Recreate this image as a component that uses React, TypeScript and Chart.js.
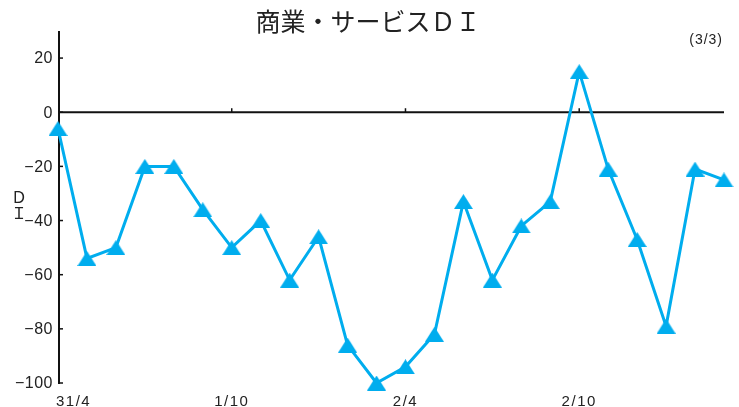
import React, { useEffect, useRef } from 'react';
import { Chart, registerables } from 'chart.js';

Chart.register(...registerables);

// Months: 平成31年4月 … 令和3年3月
const categories = [
  '31/4', '1/5', '1/6', '1/7', '1/8', '1/9', '1/10', '1/11', '1/12',
  '2/1', '2/2', '2/3', '2/4', '2/5', '2/6', '2/7', '2/8', '2/9', '2/10', '2/11', '2/12',
  '3/1', '3/2', '3/3',
];
const diValues = [
  -6, -54, -50, -20, -20, -36, -50, -40, -62, -46, -86, -100,
  -94, -82, -33, -62, -42, -33, 15, -21, -47, -79, -21, -25,
];
const xTickLabels = ['31/4', '1/10', '2/4', '2/10'];
const yTicks = [20, 0, -20, -40, -60, -80, -100];
const titleText = '商業・サービスＤＩ';
const cornerText = '(3/3)';
const yTitle = ['Ｄ', 'Ｉ'];

const LINE = '#00ADEE';
const JP = '"Noto Sans CJK JP", "Noto Sans", sans-serif';
const NUM = '"Liberation Sans", Arial, sans-serif';

const decor = {
  id: 'decor',
  beforeDatasetsDraw(chart: any) {
    const { ctx, chartArea: a, scales } = chart;
    const x = scales.x;
    const y = scales.y;
    ctx.save();
    ctx.strokeStyle = '#111';
    ctx.lineWidth = 2;
    ctx.beginPath();
    ctx.moveTo(a.left + 1, a.top);
    ctx.lineTo(a.left + 1, a.bottom + 1);
    ctx.stroke();
    ctx.lineWidth = 1.5;
    yTicks.forEach((v) => {
      const py = y.getPixelForValue(v);
      ctx.beginPath();
      ctx.moveTo(a.left, py);
      ctx.lineTo(a.left + 5, py);
      ctx.stroke();
    });
    const zy = y.getPixelForValue(0);
    ctx.lineWidth = 1.8;
    ctx.beginPath();
    ctx.moveTo(a.left, zy);
    ctx.lineTo(a.right, zy);
    ctx.stroke();
    ctx.lineWidth = 1.5;
    xTickLabels.forEach((lab, i) => {
      if (i === 0) return;
      const px = x.getPixelForValue(categories.indexOf(lab));
      ctx.beginPath();
      ctx.moveTo(px, zy);
      ctx.lineTo(px, zy - 4);
      ctx.stroke();
    });
    ctx.restore();
  },
  afterDraw(chart: any) {
    const { ctx, scales } = chart;
    const x = scales.x;
    const y = scales.y;
    ctx.save();
    ctx.fillStyle = '#222';
    ctx.font = `25px ${JP}`;
    ctx.textAlign = 'center';
    ctx.textBaseline = 'middle';
    ctx.fillText(titleText, 368, 21);
    ctx.font = `14px ${NUM}`;
    (ctx as any).letterSpacing = '1px';
    ctx.textAlign = 'right';
    ctx.fillText(cornerText, 723, 40);
    ctx.font = `16px ${NUM}`;
    (ctx as any).letterSpacing = '0.5px';
    ctx.textAlign = 'right';
    ctx.textBaseline = 'middle';
    yTicks.forEach((v) => {
      const py = y.getPixelForValue(v);
      ctx.fillText(String(v).replace('-', '−'), 53, py + 1);
    });
    (ctx as any).letterSpacing = '0px';
    ctx.font = `16px ${JP}`;
    ctx.textAlign = 'center';
    ctx.fillText(yTitle[0], 19, 197);
    ctx.fillText(yTitle[1], 19, 213);
    ctx.font = `15px ${NUM}`;
    (ctx as any).letterSpacing = '1.5px';
    ctx.textBaseline = 'alphabetic';
    xTickLabels.forEach((lab, i) => {
      const px = x.getPixelForValue(categories.indexOf(lab));
      ctx.textAlign = i === 0 ? 'left' : 'center';
      ctx.fillText(lab, i === 0 ? px - 2 : px, 406);
    });
    ctx.restore();
  },
};

export default function App() {
  const ref = useRef<HTMLCanvasElement | null>(null);
  useEffect(() => {
    if (!ref.current) return;
    const tri = document.createElement('canvas');
    tri.width = 19;
    tri.height = 15;
    const tctx = tri.getContext('2d')!;
    tctx.fillStyle = LINE;
    tctx.beginPath();
    tctx.moveTo(0, 15);
    tctx.lineTo(9.5, 0);
    tctx.lineTo(19, 15);
    tctx.closePath();
    tctx.fill();

    const chart = new Chart(ref.current, {
      type: 'line',
      data: {
        labels: categories,
        datasets: [
          {
            data: diValues,
            borderColor: LINE,
            backgroundColor: LINE,
            borderWidth: 3,
            pointStyle: tri as any,
            pointRadius: 9,
            pointBackgroundColor: LINE,
            pointBorderColor: LINE,
            pointBorderWidth: 0,
            tension: 0,
            clip: false as any,
          },
        ],
      },
      options: {
        responsive: false,
        animation: false,
        devicePixelRatio: 1,
        layout: { padding: { left: 58, right: 15, top: 31, bottom: 24 } },
        plugins: { legend: { display: false }, tooltip: { enabled: false }, title: { display: false } },
        scales: {
          x: { type: 'category', display: false, offset: false },
          y: { type: 'linear', display: false, min: -100, max: 30 },
        },
      },
      plugins: [decor],
    });
    return () => chart.destroy();
  }, []);
  return (
    <div style={{ position: 'fixed', left: 0, top: 0, width: 739, height: 407, background: '#fff' }}>
      <canvas ref={ref} width={739} height={407} />
    </div>
  );
}
